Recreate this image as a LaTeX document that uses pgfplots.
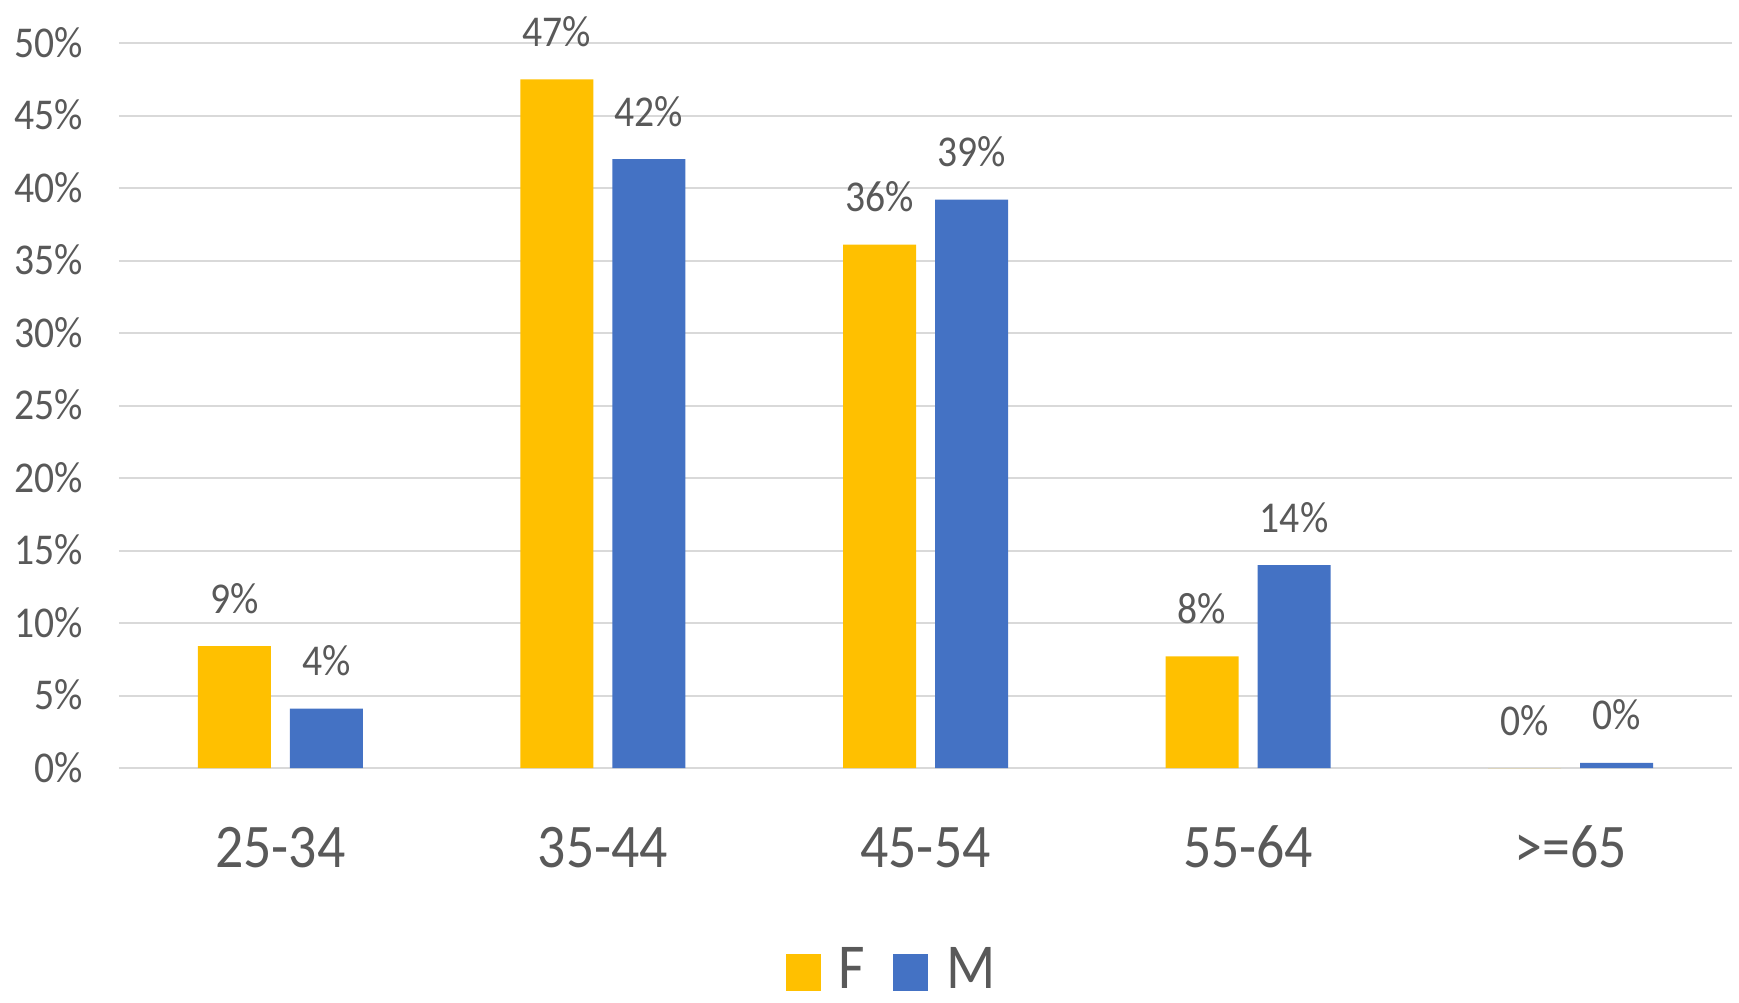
\documentclass[border=0pt]{standalone}
\usepackage{pgfplots}
\pgfplotsset{compat=1.18}
\usepackage{pgfplotstable}
\usepackage{fontspec}
\setmainfont{Carlito}[FakeStretch=0.9]
\definecolor{cF}{HTML}{FFC000}
\definecolor{cM}{HTML}{4472C4}
\definecolor{txt}{HTML}{595959}
\definecolor{grd}{HTML}{D9D9D9}
\pgfplotstableread{
x F Flab M Mlab
0 8.4 9 4.1 4
1 47.5 47 42.0 42
2 36.1 36 39.2 39
3 7.7 8 14.0 14
4 0.0 0 0.35 0
}\data
\begin{document}
\begin{tikzpicture}
\useasboundingbox (-59.5pt,-117pt) rectangle (810pt,384pt);
\begin{axis}[
  at={(0,0)}, anchor=south west,
  scale only axis, width=806.5pt, height=362.5pt,
  xmin=-0.5, xmax=4.5, ymin=0, ymax=50,
  axis line style={draw=none},
  major tick length=0pt,
  ymajorgrids, grid style={grd, line width=1pt},
  xtick={0,1,2,3,4},
  xticklabels={25-34,35-44,45-54,55-64,{>=65}},
  ytick={0,5,...,50},
  /pgf/number format/assume math mode=true,
  yticklabel={\pgfmathprintnumber{\tick}\%},
  xticklabel style={font=\fontsize{31}{36}\selectfont, text=txt, anchor=base, inner sep=0pt, yshift=-49.5pt},
  yticklabel style={font=\fontsize{22}{26}\selectfont, text=txt, anchor=base east, inner sep=0pt, xshift=-18pt, yshift=-7pt},
  clip=false,
  point meta=explicit,
  nodes near coords={\pgfmathprintnumber[fixed,precision=0]{\pgfplotspointmeta}\%},
  nodes near coords style={font=\fontsize{22}{26}\selectfont, text=txt, anchor=base, inner sep=0pt, yshift=16.5pt},
  legend columns=2,
  legend style={at={(axis description cs:0.4135,-0.3076)}, anchor=south west, draw=none, fill=none, inner sep=0pt, outer sep=0pt,
    font=\fontsize{32}{36}\selectfont, text=txt,
    /tikz/every odd column/.style={column sep=9pt},
    /tikz/every even column/.style={column sep=14pt},
    nodes={inner sep=0pt}},
]
\addplot[ybar, bar width=36.5pt, bar shift=-23pt, fill=cF, draw=none,
  every node near coord/.append style={xshift=-23pt},
  legend image code/.code={\fill[cF] (0pt,-11pt) rectangle (17.5pt,7.5pt);}]
  table[x=x, y=F, meta=Flab] {\data};
\addlegendentry{F}
\addplot[ybar, bar width=36.5pt, bar shift=23pt, fill=cM, draw=none,
  every node near coord/.append style={xshift=23pt},
  legend image code/.code={\fill[cM] (0pt,-11pt) rectangle (17.5pt,7.5pt);}]
  table[x=x, y=M, meta=Mlab] {\data};
\addlegendentry{M}
\end{axis}
\end{tikzpicture}
\end{document}
